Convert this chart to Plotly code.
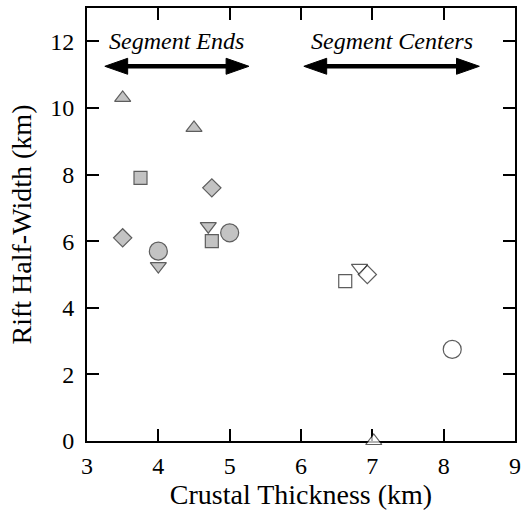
import plotly.graph_objects as go

# Segment-end measurements (filled gray symbols)
ends_thickness = [3.5, 4.5, 3.75, 4.75, 3.5, 4.7, 4.75, 5.0, 4.0, 4.0]
ends_halfwidth = [10.3, 9.4, 7.9, 7.6, 6.1, 6.45, 6.0, 6.25, 5.7, 5.25]
ends_symbols = ["triangle-up", "triangle-up", "square", "diamond", "diamond",
                "triangle-down", "square", "circle", "circle", "triangle-down"]

# Segment-center measurements (open symbols)
centers_thickness = [6.62, 6.82, 6.93, 8.12, 7.02]
centers_halfwidth = [4.8, 5.2, 5.0, 2.75, 0.0]
centers_symbols = ["square", "triangle-down", "diamond", "circle", "triangle-up"]

x_ticks = [3, 4, 5, 6, 7, 8, 9]
y_ticks = [0, 2, 4, 6, 8, 10, 12]

# Range indicators: (label, x start, x end)
ranges = [("Segment Ends", 3.25, 5.27), ("Segment Centers", 6.04, 8.5)]
arrow_y = 11.25
label_y = 12.0

SIZE = {"circle": 18, "square": 13, "diamond": 14,
        "triangle-up": 14, "triangle-down": 14}

SERIF = "Liberation Serif"

fig = go.Figure()
fig.add_trace(go.Scatter(
    x=ends_thickness, y=ends_halfwidth, mode="markers",
    marker=dict(symbol=ends_symbols, size=[SIZE[s] for s in ends_symbols],
                color="#ababab", line=dict(color="#1a1a1a", width=1.2)),
    showlegend=False, cliponaxis=False,
))
fig.add_trace(go.Scatter(
    x=centers_thickness, y=centers_halfwidth, mode="markers",
    marker=dict(symbol=centers_symbols, size=[SIZE[s] for s in centers_symbols],
                color="white", line=dict(color="#1a1a1a", width=1.2)),
    showlegend=False, cliponaxis=False,
))

# Double-headed arrows drawn as a shaft plus two triangular heads
head_len = 0.32   # in x data units
head_half = 0.24  # in y data units
shapes = []
annotations = []
for label, x0, x1 in ranges:
    shapes.append(dict(type="line", xref="x", yref="y",
                       x0=x0 + head_len * 0.9, x1=x1 - head_len * 0.9,
                       y0=arrow_y, y1=arrow_y,
                       line=dict(color="black", width=4.5)))
    shapes.append(dict(type="path", xref="x", yref="y",
                       path=f"M{x0},{arrow_y} L{x0 + head_len},{arrow_y + head_half} "
                            f"L{x0 + head_len},{arrow_y - head_half} Z",
                       fillcolor="black", line=dict(color="black", width=1)))
    shapes.append(dict(type="path", xref="x", yref="y",
                       path=f"M{x1},{arrow_y} L{x1 - head_len},{arrow_y + head_half} "
                            f"L{x1 - head_len},{arrow_y - head_half} Z",
                       fillcolor="black", line=dict(color="black", width=1)))
    annotations.append(dict(x=(x0 + x1) / 2, y=label_y, xref="x", yref="y",
                            text=f"<i>{label}</i>", showarrow=False,
                            xanchor="center", yanchor="middle",
                            font=dict(family=SERIF, size=24, color="black")))

axis_common = dict(
    showline=True, linecolor="black", linewidth=2, mirror="ticks",
    ticks="inside", ticklen=12, tickwidth=1.5, tickcolor="black",
    showgrid=False, zeroline=False, layer="below traces",
    tickfont=dict(family=SERIF, size=24, color="black"),
)

fig.update_layout(
    width=527, height=519,
    margin=dict(l=87, r=7, t=6, b=78),
    paper_bgcolor="white", plot_bgcolor="white",
    xaxis=dict(range=[3, 9], tickvals=x_ticks, ticktext=[str(v) for v in x_ticks],
               ticklabelstandoff=2,
               title=dict(text="Crustal Thickness (km)", standoff=4,
                          font=dict(family=SERIF, size=28, color="black")),
               **axis_common),
    yaxis=dict(range=[0, 13], tickvals=y_ticks, ticktext=[str(v) for v in y_ticks],
               ticklabelstandoff=6,
               title=dict(text="Rift Half-Width (km)", standoff=10,
                          font=dict(family=SERIF, size=28, color="black")),
               **axis_common),
    shapes=shapes,
    annotations=annotations,
)

fig.write_html("out.html")
